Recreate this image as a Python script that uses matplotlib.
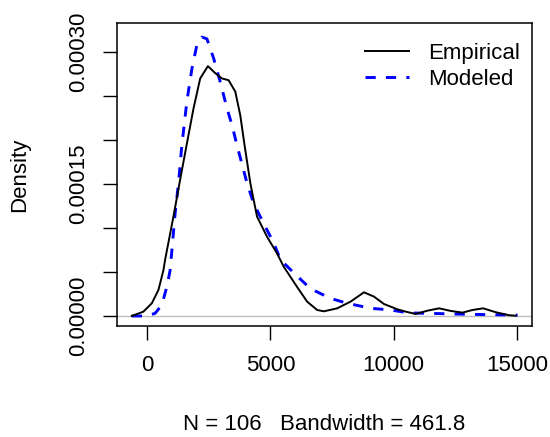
import matplotlib
matplotlib.use('Agg')
import matplotlib.pyplot as plt
import numpy as np

# values (density units scaled by 1e-5)
emp_x = [-620, -150, 191, 460, 663, 732, 1069, 1341, 1614, 1884, 2154, 2467, 2764,
         3035, 3305, 3577, 3780, 3943, 4187, 4458, 4865, 5272, 5542, 6084, 6490,
         6897, 7168, 7710, 8252, 8795, 9201, 9607, 10150, 10488, 10894, 11368,
         11843, 12317, 12791, 13198, 13632, 14146, 14688, 14960]
emp_y = [0, 0.49, 1.44, 2.95, 5.2, 6.4, 11.3, 15.5, 19.6, 23.6, 27.0, 28.4, 27.6,
         27.0, 26.8, 25.5, 22.8, 19.6, 15.1, 11.3, 9.0, 7.1, 5.6, 3.3, 1.63,
         0.68, 0.53, 0.87, 1.63, 2.69, 2.2, 1.36, 0.76, 0.49, 0.23, 0.6,
         0.87, 0.57, 0.38, 0.68, 0.87, 0.42, 0.08, 0.03]

mod_x = [-620, -14, 325, 597, 800, 935, 1138, 1274, 1410, 1614, 1817, 2020, 2223,
         2426, 2697, 2967, 3240, 3443, 3646, 4053, 4322, 4729, 5136, 5407, 5949,
         6626, 7439, 8117, 9079, 9878, 10600, 12000, 13000, 15027]
mod_y = [0, 0, 0.3, 1.25, 3.3, 5.2, 11.7, 15.1, 19.4, 24.4, 28.1, 30.8, 31.7,
         31.5, 29.3, 26.6, 23.6, 21.7, 19.4, 15.1, 12.8, 10.5, 8.3, 6.4, 4.9,
         3.1, 2.0, 1.44, 0.87, 0.68, 0.35, 0.26, 0.19, 0.1]

x_ticks = [0, 5000, 10000, 15000]
y_ticks = [0, 5e-5, 1e-4, 1.5e-4, 2e-4, 2.5e-4, 3e-4]
y_labels = ['0.00000', '', '', '0.00015', '', '', '0.00030']

FS = 16
plt.rcParams['font.family'] = ['Liberation Sans', 'DejaVu Sans']
plt.rcParams['font.size'] = FS

W, H = 550, 437
fig = plt.figure(figsize=(W / 100, H / 100), dpi=100)
ax = fig.add_axes([117 / W, 1 - 326 / H, (532 - 117) / W, (326 - 23) / H])

ax.axhline(0, color='#BEBEBE', lw=1.0, zorder=1)
ax.plot(emp_x, np.array(emp_y) * 1e-5, color='black', lw=1.4, label='Empirical', zorder=3)
ax.plot(mod_x, np.array(mod_y) * 1e-5, color='blue', lw=2.1, dashes=(3.5, 3.5),
        label='Modeled', zorder=2)

ax.set_xlim(-1220, 15610)
ax.set_ylim(-1.14e-5, 3.33e-4)
ax.set_xticks(x_ticks)
ax.set_xticklabels([str(t) for t in x_ticks])
ax.set_yticks(y_ticks)
ax.set_yticklabels(y_labels, rotation=90, va='center')
ax.tick_params(direction='out', length=10, width=1.0, labelsize=FS)
ax.tick_params(axis='x', pad=11)
ax.tick_params(axis='y', pad=10)

for s in ax.spines.values():
    s.set_linewidth(1.1)

fig.text(20 / W, 1 - 175 / H, 'Density', rotation=90, ha='center', va='center', fontsize=FS)
fig.text(324.5 / W, 1 - 425 / H, 'N = 106   Bandwidth = 461.8', ha='center', va='center',
         fontsize=FS)

ax.legend(loc='upper right', bbox_to_anchor=(0.972, 0.935), frameon=False,
          borderpad=0, borderaxespad=0, handlelength=1.95, handletextpad=0.9,
          labelspacing=0.25, fontsize=FS)

fig.savefig('out.png', dpi=100)
